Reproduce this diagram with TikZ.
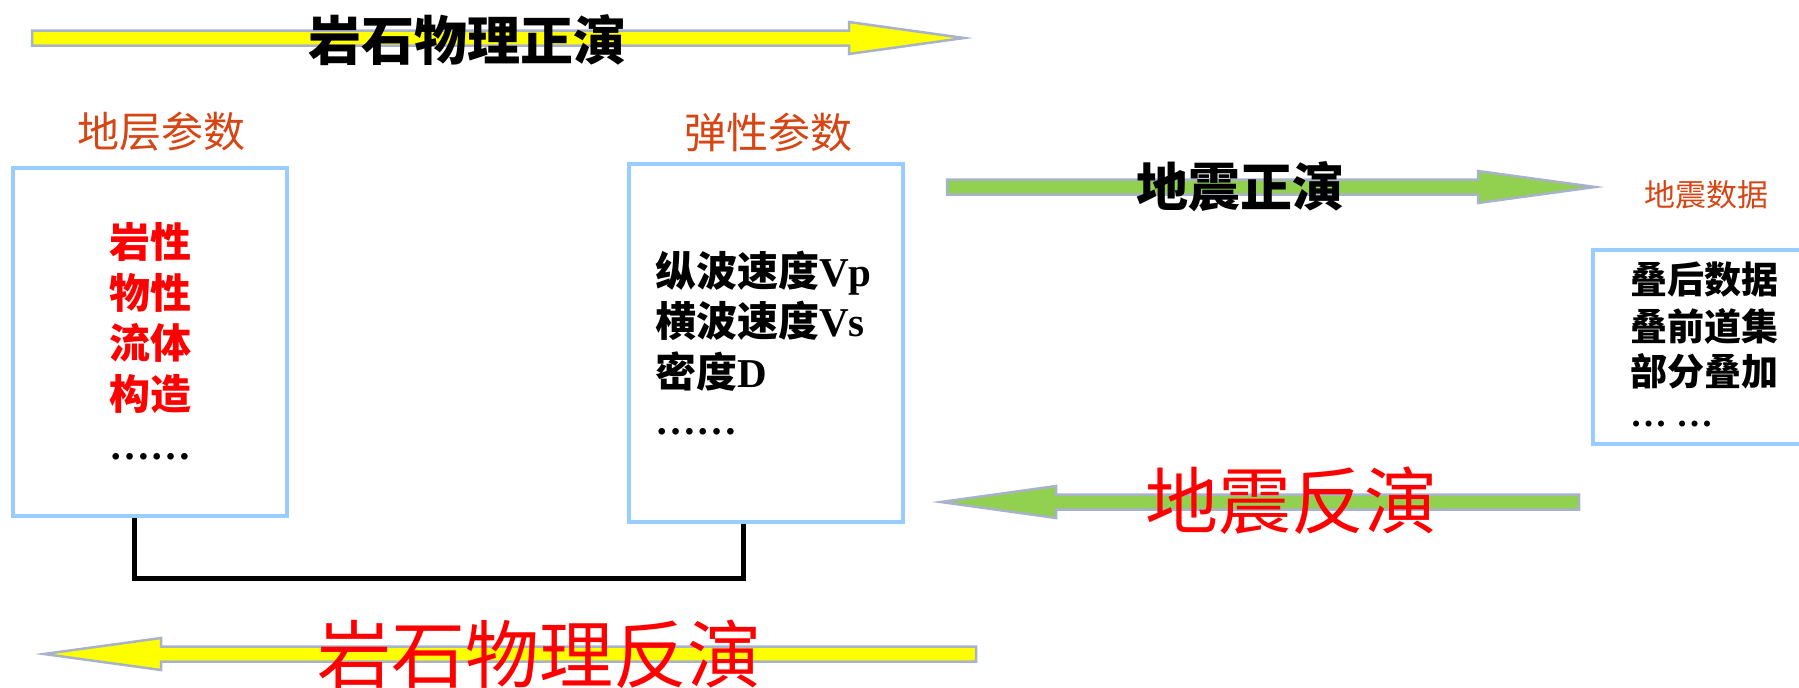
\documentclass[tikz,border=0pt]{standalone}
\usepackage{fontspec}
\setmainfont{Liberation Serif}
\newfontfamily\cjk{Noto Sans CJK SC}
\definecolor{boxblue}{RGB}{153,204,255}
\definecolor{arrowedge}{RGB}{168,178,202}
\definecolor{yel}{RGB}{255,255,0}
\definecolor{grn}{RGB}{146,208,80}
\definecolor{orng}{RGB}{214,69,20}
\definecolor{rd}{RGB}{255,0,0}
\newcommand{\fs}[1]{\fontsize{#1}{#1}\selectfont}
\tikzset{
  box/.style={draw=boxblue, line width=3.5pt, fill=white, inner sep=0pt},
  yarrow/.style={draw=arrowedge, line width=2.5pt, fill=yel, line join=miter},
  garrow/.style={draw=arrowedge, line width=2.5pt, fill=grn, line join=miter},
  lbl/.style={inner sep=0pt, font=\cjk},
  line/.style={inner sep=0pt, anchor=base},
  conn/.style={draw=black, line width=5pt}
}
\begin{document}
\begin{tikzpicture}[x=1pt, y=-1pt]
\useasboundingbox (0,0) rectangle (1799,688);
% block arrows
\draw[yarrow] (32,30.5) -- (849,30.5) -- (849,22) -- (964,38) -- (849,54) -- (849,45.5) -- (32,45.5) -- cycle;
\draw[garrow] (947,179.5) -- (1478,179.5) -- (1478,171) -- (1595,187) -- (1478,203) -- (1478,194.5) -- (947,194.5) -- cycle;
\draw[garrow] (1579,494.5) -- (1056,494.5) -- (1056,486) -- (941,502) -- (1056,518) -- (1056,509.5) -- (1579,509.5) -- cycle;
\draw[yarrow] (976,646.5) -- (161,646.5) -- (161,638) -- (44,654) -- (161,670) -- (161,661.5) -- (976,661.5) -- cycle;
% arrow labels
\node[lbl, font=\cjk\bfseries\fs{53}] (t1) at (467,40) {岩石物理正演};
\node[lbl, font=\cjk\bfseries\fs{52}] (t2) at (1240,187) {地震正演};
\node[lbl, font=\cjk\fs{73}, text=rd] (t3) at (1291,501) {地震反演};
\node[lbl, font=\cjk\fs{74}, text=rd] (t4) at (539,654) {岩石物理反演};
% titles
\node[lbl, font=\cjk\fs{42}, text=orng] (h1) at (161,132) {地层参数};
\node[lbl, font=\cjk\fs{42}, text=orng] (h2) at (768,132) {弹性参数};
\node[lbl, font=\cjk\fs{31}, text=orng] (h3) at (1706,195) {地震数据};
% boxes
\node[box, minimum width=274pt, minimum height=348pt] (lbox) at (150,342) {};
\node[box, minimum width=274pt, minimum height=358pt] (mbox) at (766,343) {};
\node[box, minimum width=260pt, minimum height=194pt, anchor=north west] (rbox) at (1591,248) {};
% connector
\draw[conn] ([xshift=-16pt]lbox.south) -- ++(0,61) -| ([xshift=-23pt]mbox.south);
% left box text
\begin{scope}[every node/.append style={line, font=\cjk\bfseries\fs{41}, text=rd}]
\node (l1) at (150,257) {岩性};
\node (l2) at (150,308) {物性};
\node (l3) at (150,358) {流体};
\node (l4) at (150,409) {构造};
\end{scope}
\node[line, font=\bfseries\fs{41}] (l5) at (150,459) {……};
% middle box text
\begin{scope}[every node/.append style={line, anchor=base west, font=\bfseries\fs{41}}]
\node (m1) at (655,286) {{\cjk 纵波速度}Vp};
\node (m2) at (655,336) {{\cjk 横波速度}Vs};
\node (m3) at (655,387) {{\cjk 密度}D};
\node (m4) at (655,434) {……};
\end{scope}
% right box text
\begin{scope}[every node/.append style={line, anchor=base west, font=\cjk\bfseries\fs{37}}]
\node (r1) at (1630,293) {叠后数据};
\node (r2) at (1630,340) {叠前道集};
\node (r3) at (1630,385) {部分叠加};
\end{scope}
\node[line, anchor=base west, font=\bfseries\fs{37}] (r4) at (1630,426) {… …};
\end{tikzpicture}
\end{document}
